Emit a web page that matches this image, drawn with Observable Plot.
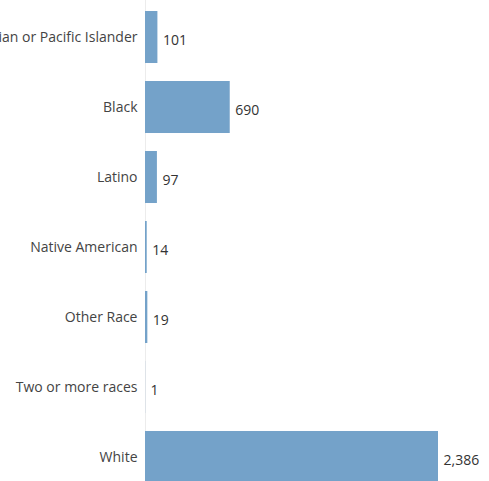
<!DOCTYPE html>
<html>
<head>
<meta charset="utf-8">
<script src="https://cdn.jsdelivr.net/npm/d3@7"></script>
<script src="https://cdn.jsdelivr.net/npm/@observablehq/plot@0.6"></script>
<style>
  html, body { margin: 0; padding: 0; background: #fff; overflow: hidden; }
  svg { display: block; }
</style>
</head>
<body>
<div id="chart"></div>
<script>
const categories = ["Asian or Pacific Islander", "Black", "Latino", "Native American", "Other Race", "Two or more races", "White"];
const counts = [101, 690, 97, 14, 19, 1, 2386];

const data = categories.map((c, i) => ({category: c, count: counts[i]}));
const fmt = d3.format(",");

const chart = Plot.plot({
  width: 489,
  height: 481,
  marginLeft: 145,
  marginRight: 51,
  marginTop: 0,
  marginBottom: 0,
  style: {fontFamily: "'Open Sans', sans-serif", fontSize: "14px", color: "#444", background: "#fff"},
  x: {domain: [0, 2386], axis: null},
  y: {domain: categories, range: [11, 483], paddingInner: 0.257, paddingOuter: 0, round: false, label: null, tickSize: 0, tickPadding: 8},
  marks: [
    Plot.ruleX([0], {stroke: "#ececec", strokeWidth: 1}),
    Plot.barX(data, {x: "count", y: "category", fill: "#74a2c9"}),
    Plot.text(data, {x: "count", y: "category", text: d => fmt(d.count), textAnchor: "start", dx: 5, dy: 3, fill: "#333"})
  ]
});
document.getElementById("chart").appendChild(chart);
</script>
</body>
</html>
